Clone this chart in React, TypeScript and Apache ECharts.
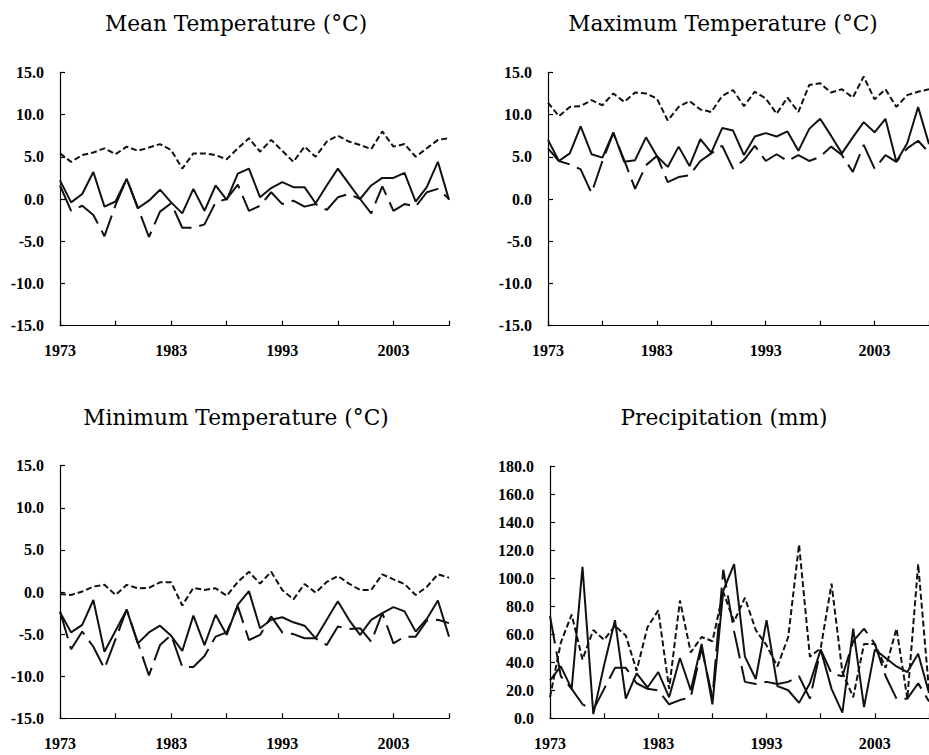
import React, { useEffect, useRef } from 'react';
import * as echarts from 'echarts';

const YEARS = [
  '1973', '1974', '1975', '1976', '1977', '1978', '1979', '1980', '1981', '1982',
  '1983', '1984', '1985', '1986', '1987', '1988', '1989', '1990', '1991', '1992',
  '1993', '1994', '1995', '1996', '1997', '1998', '1999', '2000', '2001', '2002',
  '2003', '2004', '2005', '2006', '2007', '2008',
];

// Mean temperature (°C)
const MEAN_SOLID = [2.2, -0.4, 0.6, 3.2, -0.9, -0.3, 2.4, -1.1, -0.2, 1.1, -0.4, -1.7, 1.2, -1.4, 1.6, -0.1, 3.0, 3.6, 0.2, 1.3, 2.0, 1.4, 1.4, -0.5, 1.6, 3.6, 1.8, 0.0, 1.6, 2.5, 2.5, 3.1, -0.3, 1.4, 4.4, -0.1];
const MEAN_LONGDASH = [1.6, -1.4, -0.8, -1.9, -4.4, -0.7, 2.4, -1.0, -4.5, -1.5, -0.5, -3.4, -3.4, -3.0, -0.4, 0.0, 1.7, -1.4, -0.8, 0.8, -0.6, -0.2, -0.9, -0.6, -1.3, 0.2, 0.6, 0.0, -1.7, 1.5, -1.4, -0.6, -0.9, 0.8, 1.2, 0.0];
const MEAN_SHORTDASH = [5.4, 4.4, 5.2, 5.5, 6.0, 5.3, 6.2, 5.7, 6.1, 6.5, 5.8, 3.6, 5.4, 5.4, 5.2, 4.7, 6.0, 7.2, 5.6, 7.0, 5.7, 4.4, 6.2, 5.0, 6.8, 7.5, 6.8, 6.4, 5.9, 8.0, 6.2, 6.5, 5.0, 6.0, 7.0, 7.2];

// Maximum temperature (°C)
const MAX_SOLID = [7.0, 4.5, 5.4, 8.6, 5.3, 4.9, 7.9, 4.4, 4.6, 7.3, 5.1, 3.8, 6.2, 3.9, 7.1, 5.5, 8.4, 8.1, 5.2, 7.4, 7.8, 7.4, 8.0, 5.7, 8.3, 9.5, 7.5, 5.4, 7.3, 9.1, 7.9, 9.5, 4.4, 6.6, 10.9, 6.5];
const MAX_LONGDASH = [6.0, 4.5, 4.1, 3.5, 0.7, 4.5, 7.8, 4.6, 1.2, 4.0, 5.1, 2.0, 2.6, 2.8, 4.5, 5.4, 6.3, 3.6, 4.6, 6.3, 4.5, 5.3, 4.5, 5.2, 4.5, 5.0, 6.2, 5.2, 3.2, 6.4, 3.6, 5.2, 4.4, 6.0, 6.9, 5.5];
const MAX_SHORTDASH = [11.4, 9.8, 10.9, 11.0, 11.7, 11.1, 12.5, 11.5, 12.6, 12.5, 11.9, 9.3, 10.9, 11.6, 10.6, 10.3, 12.2, 12.9, 11.0, 12.7, 11.9, 10.1, 12.0, 10.3, 13.5, 13.7, 12.6, 13.0, 12.0, 14.5, 11.8, 13.0, 10.9, 12.3, 12.7, 13.0];

// Minimum temperature (°C)
const MIN_SOLID = [-2.4, -4.8, -3.9, -0.95, -7.1, -4.6, -2.1, -6.1, -4.8, -4.0, -5.2, -7.0, -2.8, -6.3, -2.7, -5.1, -1.5, 0.1, -4.3, -3.3, -3.0, -3.6, -4.0, -5.5, -3.3, -1.1, -3.3, -5.1, -3.3, -2.5, -1.8, -2.3, -4.7, -3.2, -1.0, -5.3];
const MIN_LONGDASH = [-2.3, -6.8, -4.7, -6.5, -9.1, -5.6, -2.1, -6.0, -9.9, -6.3, -5.1, -8.9, -8.9, -7.6, -5.3, -4.8, -1.7, -5.7, -5.1, -2.9, -4.8, -5.0, -5.5, -5.5, -6.3, -4.1, -4.4, -4.3, -5.9, -2.5, -6.1, -5.3, -5.3, -3.4, -3.3, -3.7];
const MIN_SHORTDASH = [-0.25, -0.35, 0.05, 0.65, 0.85, -0.35, 0.85, 0.45, 0.5, 1.15, 1.15, -1.6, 0.5, 0.25, 0.45, -0.45, 1.2, 2.4, 1.0, 2.4, 0.24, -0.87, 0.95, -0.08, 1.2, 1.9, 1.0, 0.24, 0.24, 2.1, 1.5, 0.95, -0.36, 0.6, 2.1, 1.7];

// Precipitation (mm)
const PRE_SOLID = [27, 37, 21, 108, 3, 38, 70, 14, 32, 22, 33, 15, 43, 20, 53, 10, 91, 110, 44, 28, 70, 23, 20, 11, 25, 49, 21, 4, 64, 8, 49, 43, 37, 33, 46, 18];
const PRE_LONGDASH = [73, 30, 21, 10, 6, 21, 36, 36, 25, 21, 20, 10, 13, 15, 50, 15, 106, 62, 26, 24.5, 26, 24.5, 26, 30, 14, 49, 32, 30, 55, 64, 53, 30, 14, 14, 25, 12];
const PRE_SHORTDASH = [15, 54, 74, 42, 63, 56, 66, 59, 34, 65, 77, 21, 84, 47, 58, 55, 90, 69, 86, 63, 52, 37, 58, 124, 44, 50, 96, 33, 15, 53, 53, 36, 64, 14, 110, 20];

const TITLES = ['Mean Temperature (°C)', 'Maximum Temperature (°C)', 'Minimum Temperature (°C)', 'Precipitation (mm)'];

const PANELS = [
  { title: TITLES[0], tx: 236, ty: 23, grid: { left: 60, top: 72.3, width: 389, height: 253.4 }, min: -15, max: 15, interval: 5, series: [MEAN_SOLID, MEAN_LONGDASH, MEAN_SHORTDASH] },
  { title: TITLES[1], tx: 723, ty: 23, grid: { left: 548, top: 72.3, width: 386.5, height: 253.4 }, min: -15, max: 15, interval: 5, series: [MAX_SOLID, MAX_LONGDASH, MAX_SHORTDASH] },
  { title: TITLES[2], tx: 236, ty: 417, grid: { left: 60, top: 465.7, width: 389, height: 252.6 }, min: -15, max: 15, interval: 5, series: [MIN_SOLID, MIN_LONGDASH, MIN_SHORTDASH] },
  { title: TITLES[3], tx: 724, ty: 417, grid: { left: 550, top: 466, width: 386, height: 252.3 }, min: 0, max: 180, interval: 20, series: [PRE_SOLID, PRE_LONGDASH, PRE_SHORTDASH] },
];

const LINE_TYPES: any[] = ['solid', [28, 8], [6, 3]];
const TICK_FONT = { fontFamily: '"Liberation Serif", "Times New Roman", serif', fontWeight: 'bold' as const, fontSize: 16, color: '#000' };

export default function App() {
  const ref = useRef<HTMLDivElement>(null);

  useEffect(() => {
    if (!ref.current) return;
    const chart = echarts.init(ref.current, undefined, { renderer: 'svg' });

    const grid = PANELS.map((p) => ({ ...p.grid, containLabel: false }));
    const xAxis = PANELS.map((p, i) => ({
      type: 'category',
      gridIndex: i,
      data: YEARS,
      boundaryGap: false,
      axisLine: { show: true, onZero: false, lineStyle: { color: '#000', width: 1.2 } },
      axisTick: { show: true, inside: true, interval: 4, length: 5, lineStyle: { color: '#000', width: 1.2 } },
      axisLabel: { interval: 9, margin: 17, ...TICK_FONT },
      splitLine: { show: false },
    }));
    const yAxis = PANELS.map((p, i) => ({
      type: 'value',
      gridIndex: i,
      min: p.min,
      max: p.max,
      interval: p.interval,
      axisLine: { show: true, lineStyle: { color: '#000', width: 1.2 } },
      axisTick: { show: true, inside: true, length: 5, lineStyle: { color: '#000', width: 1.2 } },
      axisLabel: { margin: 16, formatter: (v: number) => v.toFixed(1), ...TICK_FONT },
      splitLine: { show: false },
    }));
    const series: any[] = [];
    PANELS.forEach((p, i) => {
      p.series.forEach((d, k) => {
        series.push({
          type: 'line',
          xAxisIndex: i,
          yAxisIndex: i,
          data: d,
          symbol: 'none',
          showSymbol: false,
          lineStyle: { color: '#111', width: 2, type: LINE_TYPES[k] },
          z: 3 - k,
        });
      });
    });
    const graphic = PANELS.map((p) => ({
      type: 'text',
      x: p.tx,
      y: p.ty,
      style: {
        text: p.title,
        fontFamily: '"DejaVu Serif", serif',
        fontSize: 21.7,
        fill: '#000',
        textAlign: 'center',
        textVerticalAlign: 'middle',
      },
    }));

    chart.setOption({
      animation: false,
      backgroundColor: '#fff',
      grid,
      xAxis,
      yAxis,
      series,
      graphic,
    });
    return () => chart.dispose();
  }, []);

  return (
    <div
      ref={ref}
      style={{ position: 'fixed', left: 0, top: 0, width: 929, height: 755, background: '#fff' }}
    />
  );
}
